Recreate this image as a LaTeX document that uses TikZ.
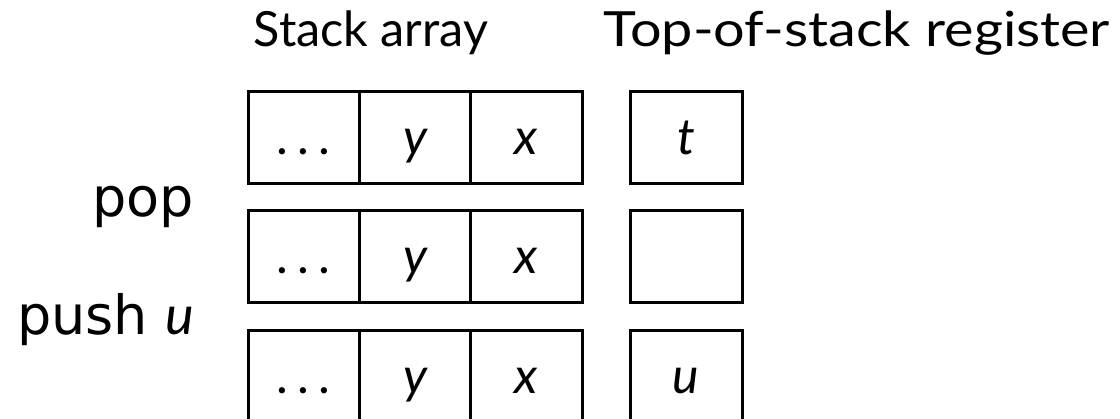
\documentclass[tikz,border=0pt]{standalone}
\usepackage{graphicx}
\usepackage{fontspec}
\newfontfamily\headfont{Lato}
\newfontfamily\opfont{DejaVu Sans}
\newfontfamily\varfont{Lato}
\newcommand{\celldots}{\upshape.\kern9pt.\kern9pt.}
\begin{document}
\begin{tikzpicture}[x=1pt,y=1pt,
  cell/.style={draw, line width=3pt, minimum width=111.33pt, minimum height=92pt,
    inner sep=0pt, text height=34pt, text depth=0pt, font=\varfont\itshape\fontsize{50}{50}\selectfont},
  reg/.style={cell, minimum width=112pt},
  head/.style={inner sep=0pt, anchor=base, font=\headfont\fontsize{48.5}{48.5}\selectfont},
  op/.style={inner sep=0pt, anchor=base east, font=\opfont\fontsize{54}{54}\selectfont}]
\useasboundingbox (0,0) rectangle (1120,419);
\node[head] (h1) at (371,372) {Stack array};
\node[head] (h2) at (857,372) {\scalebox{1.15}[1]{Top-of-stack register}};
% row 1
\node[cell] (a1) at (303.67,281) {\celldots};
\node[cell] (b1) at (415,281) {y};
\node[cell] (c1) at (526.33,281) {x};
\node[reg]  (r1) at (686,281) {t};
% row 2
\node[cell] (a2) at (303.67,162) {\celldots};
\node[cell] (b2) at (415,162) {y};
\node[cell] (c2) at (526.33,162) {x};
\node[reg]  (r2) at (686,162) {};
% row 3
\node[cell] (a3) at (303.67,42) {\celldots};
\node[cell] (b3) at (415,42) {y};
\node[cell] (c3) at (526.33,42) {x};
\node[reg]  (r3) at (686,42) {u};
% labels
\node[op] (pop) at (194,202) {pop};
\node[op] (push) at (194,84) {push {\varfont\itshape u}};
\end{tikzpicture}
\end{document}
